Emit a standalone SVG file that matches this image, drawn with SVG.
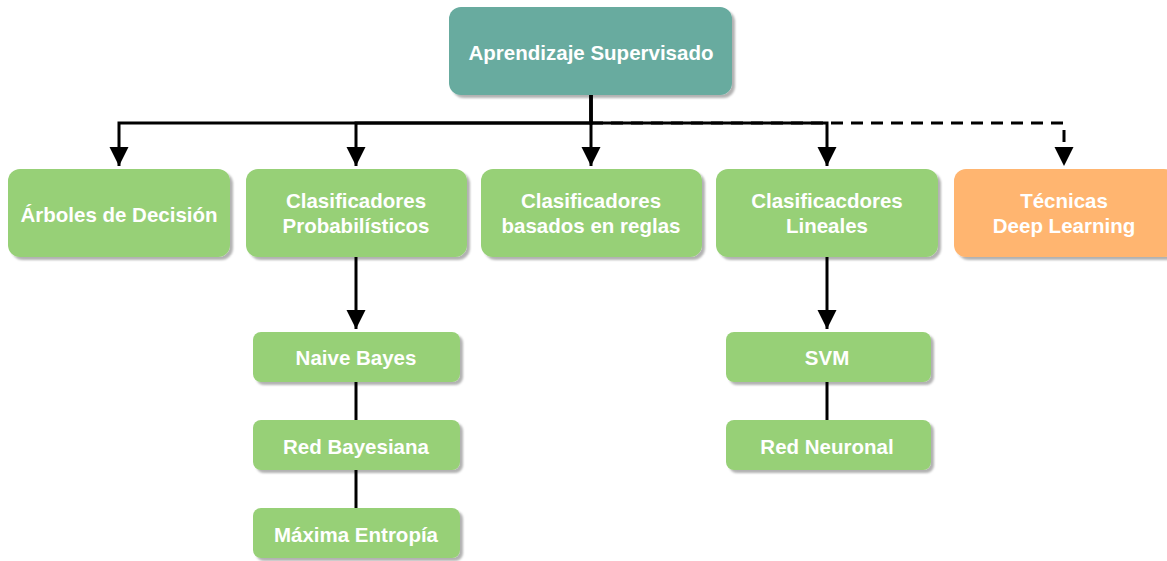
<svg xmlns="http://www.w3.org/2000/svg" width="1167" height="561" viewBox="0 0 1167 561">
  <defs>
    <filter id="shadow" x="-10%" y="-10%" width="130%" height="140%">
      <feDropShadow dx="3" dy="3" stdDeviation="1.2" flood-color="#000" flood-opacity="0.3"/>
    </filter>
    <marker id="arrow" viewBox="0 0 10 10" refX="10" refY="5" markerWidth="6.5" markerHeight="6.5" markerUnits="strokeWidth" orient="auto">
      <path d="M0,0 L10,5 L0,10 Z" fill="#000"/>
    </marker>
    <style>
      .box { filter: url(#shadow); }
      .root { fill: #67AB9F; }
      .green { fill: #97D077; }
      .orange { fill: #FFB570; }
      .label { font-family: "Liberation Sans", Arial, sans-serif; font-weight: bold; font-size: 20.5px; fill: #fff; text-anchor: middle; }
      .edge { fill: none; stroke: #000; stroke-width: 3; }
      .dashed { stroke-dasharray: 12 8; }
    </style>
  </defs>

  <!-- connectors -->
  <g id="connectors">
    <path class="edge" d="M591,95 V123 H119 V166" marker-end="url(#arrow)"/>
    <path class="edge" d="M591,95 V123 H356 V166" marker-end="url(#arrow)"/>
    <path class="edge" d="M591,95 V166" marker-end="url(#arrow)"/>
    <path class="edge" d="M591,95 V123 H827 V166" marker-end="url(#arrow)"/>
    <path class="edge dashed" d="M591,123 H1064 V166" marker-end="url(#arrow)"/>
    <path class="edge" d="M356,257 V329" marker-end="url(#arrow)"/>
    <path class="edge" d="M827,257 V329" marker-end="url(#arrow)"/>
    <path class="edge" d="M356,382 V420"/>
    <path class="edge" d="M356,470 V508"/>
    <path class="edge" d="M827,382 V420"/>
  </g>

  <!-- root -->
  <g id="node-aprendizaje">
    <rect class="box root" x="449" y="7" width="283" height="88" rx="12"/>
    <text class="label" x="591" y="60">Aprendizaje Supervisado</text>
  </g>

  <!-- first level -->
  <g id="node-arboles">
    <rect class="box green" x="8" y="169" width="222" height="88" rx="12"/>
    <text class="label" x="119" y="222">Árboles de Decisión</text>
  </g>
  <g id="node-probabilisticos">
    <rect class="box green" x="246" y="169" width="221" height="88" rx="12"/>
    <text class="label" x="356" y="208">Clasificadores</text>
    <text class="label" x="356" y="233">Probabilísticos</text>
  </g>
  <g id="node-reglas">
    <rect class="box green" x="481" y="169" width="221" height="88" rx="12"/>
    <text class="label" x="591" y="208">Clasificadores</text>
    <text class="label" x="591" y="233">basados en reglas</text>
  </g>
  <g id="node-lineales">
    <rect class="box green" x="716" y="169" width="222" height="88" rx="12"/>
    <text class="label" x="827" y="208">Clasificacdores</text>
    <text class="label" x="827" y="233">Lineales</text>
  </g>
  <g id="node-deep">
    <rect class="box orange" x="954" y="169" width="222" height="88" rx="12"/>
    <text class="label" x="1064" y="208">Técnicas</text>
    <text class="label" x="1064" y="233">Deep Learning</text>
  </g>

  <!-- probabilistic classifiers -->
  <g id="node-naive">
    <rect class="box green" x="253" y="332" width="207" height="50" rx="8"/>
    <text class="label" x="356" y="365">Naive Bayes</text>
  </g>
  <g id="node-bayesiana">
    <rect class="box green" x="253" y="420" width="207" height="50" rx="8"/>
    <text class="label" x="356" y="454">Red Bayesiana</text>
  </g>
  <g id="node-entropia">
    <rect class="box green" x="253" y="508" width="207" height="50" rx="8"/>
    <text class="label" x="356" y="542">Máxima Entropía</text>
  </g>

  <!-- linear classifiers -->
  <g id="node-svm">
    <rect class="box green" x="726" y="332" width="205" height="50" rx="8"/>
    <text class="label" x="827" y="365">SVM</text>
  </g>
  <g id="node-neuronal">
    <rect class="box green" x="726" y="420" width="205" height="50" rx="8"/>
    <text class="label" x="827" y="454">Red Neuronal</text>
  </g>
</svg>
